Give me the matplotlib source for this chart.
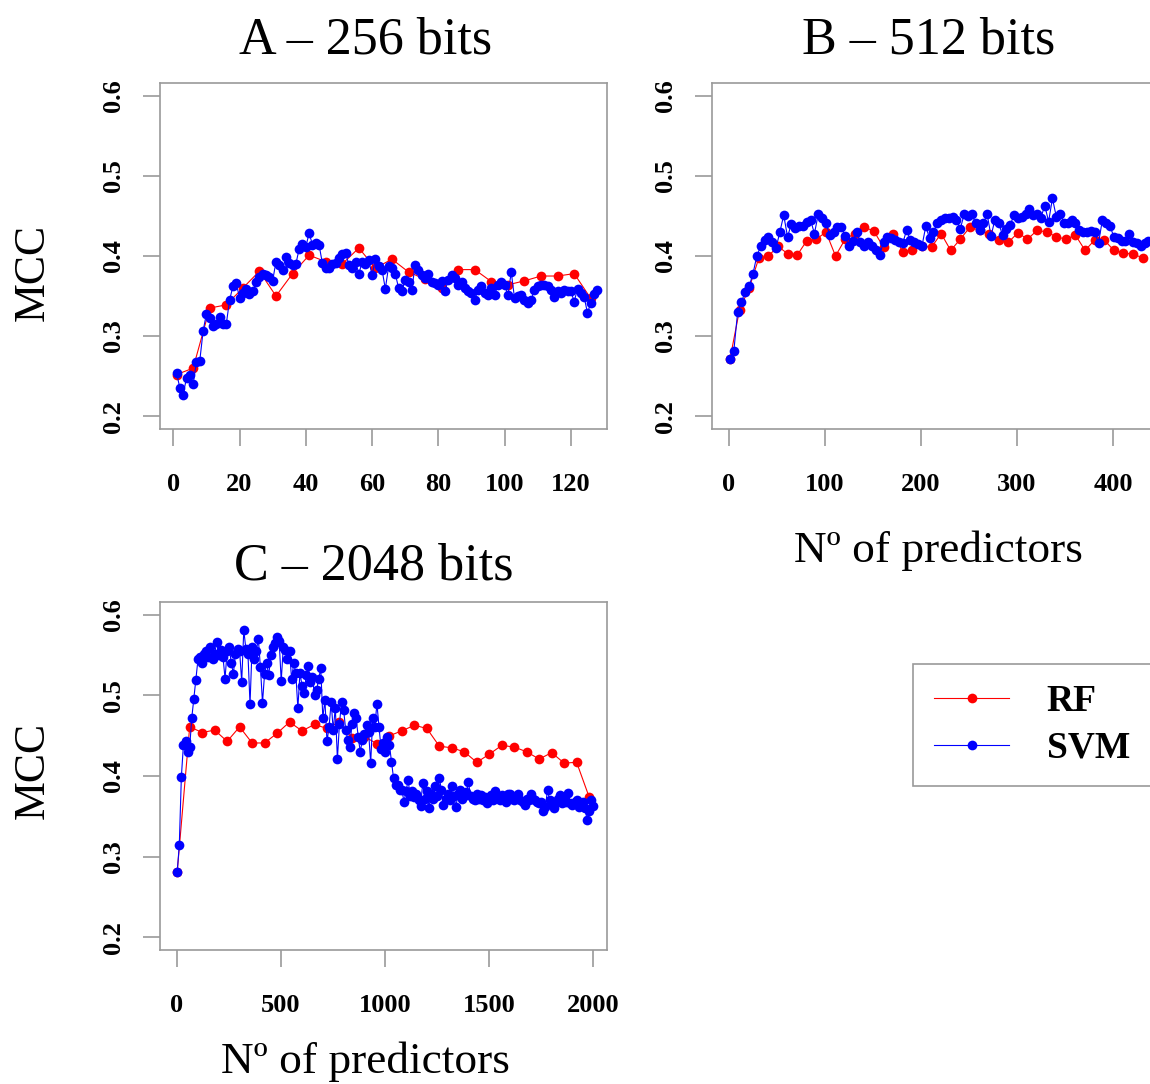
import numpy as np
import matplotlib
matplotlib.use("Agg")
import matplotlib.pyplot as plt
from matplotlib.lines import Line2D

# ---------------- data ----------------
# Panel A - 256 bits
a_svm_x = np.arange(1, 129)
a_svm_y = [0.254, 0.235, 0.227, 0.248, 0.251, 0.240, 0.268, 0.269, 0.306, 0.328,
           0.323, 0.313, 0.315, 0.324, 0.315, 0.315, 0.345, 0.362, 0.366, 0.348,
           0.354, 0.359, 0.352, 0.356, 0.368, 0.374, 0.378, 0.376, 0.374, 0.369,
           0.393, 0.389, 0.383, 0.399, 0.391, 0.389, 0.390, 0.409, 0.415, 0.411,
           0.429, 0.414, 0.416, 0.414, 0.391, 0.385, 0.385, 0.390, 0.391, 0.397,
           0.402, 0.404, 0.389, 0.385, 0.393, 0.378, 0.392, 0.390, 0.395, 0.376,
           0.396, 0.387, 0.383, 0.359, 0.387, 0.385, 0.378, 0.360, 0.356, 0.370,
           0.368, 0.358, 0.389, 0.383, 0.376, 0.372, 0.378, 0.367, 0.366, 0.364,
           0.369, 0.356, 0.370, 0.376, 0.372, 0.364, 0.368, 0.360, 0.356, 0.354,
           0.345, 0.358, 0.362, 0.354, 0.351, 0.360, 0.351, 0.364, 0.368, 0.364,
           0.351, 0.380, 0.347, 0.350, 0.351, 0.345, 0.341, 0.345, 0.358, 0.362,
           0.364, 0.364, 0.362, 0.358, 0.349, 0.356, 0.354, 0.358, 0.356, 0.356,
           0.343, 0.359, 0.354, 0.349, 0.329, 0.341, 0.352, 0.358]
a_rf_x = np.arange(1, 127, 5)
a_rf_y = [0.252, 0.260, 0.335, 0.339, 0.360, 0.381, 0.350, 0.378, 0.401, 0.393,
          0.390, 0.410, 0.385, 0.396, 0.380, 0.371, 0.360, 0.383, 0.383, 0.368,
          0.364, 0.369, 0.375, 0.375, 0.378, 0.347]

# Panel B - 512 bits
b_svm_x = np.arange(1, 438, 4)
b_svm_y = [0.271, 0.281, 0.330, 0.343, 0.355, 0.362, 0.378, 0.400, 0.412, 0.420,
           0.424, 0.418, 0.410, 0.430, 0.451, 0.424, 0.440, 0.435, 0.437, 0.437,
           0.443, 0.445, 0.428, 0.452, 0.447, 0.441, 0.426, 0.430, 0.436, 0.436,
           0.425, 0.412, 0.419, 0.430, 0.417, 0.412, 0.418, 0.412, 0.407, 0.401,
           0.418, 0.424, 0.422, 0.420, 0.418, 0.416, 0.432, 0.420, 0.418, 0.415,
           0.412, 0.437, 0.422, 0.430, 0.441, 0.445, 0.447, 0.447, 0.449, 0.445,
           0.434, 0.452, 0.450, 0.452, 0.441, 0.432, 0.441, 0.452, 0.425, 0.445,
           0.441, 0.426, 0.434, 0.439, 0.451, 0.447, 0.449, 0.452, 0.459, 0.451,
           0.453, 0.448, 0.463, 0.443, 0.472, 0.449, 0.453, 0.441, 0.441, 0.445,
           0.441, 0.432, 0.430, 0.430, 0.431, 0.430, 0.416, 0.445, 0.441, 0.437,
           0.424, 0.422, 0.419, 0.419, 0.428, 0.417, 0.416, 0.412, 0.416, 0.419]
b_rf_x = np.arange(1, 432, 10)
b_rf_y = [0.271, 0.333, 0.360, 0.397, 0.400, 0.412, 0.403, 0.401, 0.419, 0.421,
          0.430, 0.400, 0.421, 0.428, 0.436, 0.431, 0.411, 0.428, 0.405, 0.408,
          0.412, 0.411, 0.428, 0.407, 0.421, 0.436, 0.432, 0.428, 0.420, 0.417,
          0.429, 0.421, 0.432, 0.430, 0.424, 0.421, 0.426, 0.407, 0.420, 0.420,
          0.407, 0.404, 0.402, 0.398]

# Panel C - 2048 bits
c_svm_x = np.arange(1, 2002, 10)
c_svm_y = [0.281, 0.314, 0.399, 0.439, 0.443, 0.430, 0.436, 0.472, 0.496, 0.519,
           0.545, 0.548, 0.540, 0.552, 0.555, 0.548, 0.560, 0.545, 0.552, 0.566,
           0.550, 0.556, 0.548, 0.521, 0.555, 0.560, 0.540, 0.527, 0.552, 0.558,
           0.555, 0.517, 0.581, 0.558, 0.552, 0.489, 0.560, 0.545, 0.555, 0.570,
           0.535, 0.491, 0.527, 0.540, 0.525, 0.550, 0.560, 0.565, 0.573, 0.568,
           0.518, 0.560, 0.556, 0.545, 0.555, 0.520, 0.540, 0.528, 0.484, 0.528,
           0.512, 0.503, 0.525, 0.536, 0.517, 0.523, 0.500, 0.507, 0.520, 0.534,
           0.472, 0.494, 0.443, 0.461, 0.492, 0.457, 0.485, 0.421, 0.465, 0.492,
           0.482, 0.457, 0.445, 0.436, 0.465, 0.478, 0.472, 0.449, 0.430, 0.445,
           0.452, 0.463, 0.455, 0.416, 0.472, 0.461, 0.490, 0.461, 0.434, 0.441,
           0.430, 0.449, 0.439, 0.418, 0.397, 0.389, 0.389, 0.383, 0.383, 0.368,
           0.381, 0.395, 0.375, 0.381, 0.374, 0.378, 0.370, 0.363, 0.391, 0.372,
           0.381, 0.360, 0.378, 0.372, 0.387, 0.375, 0.397, 0.383, 0.364, 0.372,
           0.378, 0.370, 0.387, 0.375, 0.362, 0.378, 0.383, 0.372, 0.375, 0.380,
           0.392, 0.375, 0.372, 0.370, 0.378, 0.372, 0.376, 0.370, 0.374, 0.366,
           0.372, 0.376, 0.370, 0.381, 0.374, 0.370, 0.376, 0.372, 0.368, 0.378,
           0.378, 0.372, 0.370, 0.374, 0.378, 0.370, 0.368, 0.364, 0.372, 0.370,
           0.378, 0.372, 0.370, 0.368, 0.366, 0.368, 0.356, 0.362, 0.383, 0.370,
           0.366, 0.360, 0.368, 0.372, 0.376, 0.366, 0.370, 0.368, 0.379, 0.366,
           0.364, 0.368, 0.370, 0.362, 0.366, 0.368, 0.360, 0.346, 0.356, 0.370,
           0.363]
c_rf_x = np.arange(1, 1982, 60)
c_rf_y = [0.281, 0.461, 0.454, 0.457, 0.443, 0.461, 0.441, 0.441, 0.453, 0.467,
          0.456, 0.464, 0.459, 0.467, 0.447, 0.449, 0.440, 0.450, 0.456, 0.463,
          0.459, 0.437, 0.435, 0.430, 0.417, 0.427, 0.438, 0.436, 0.430, 0.421,
          0.429, 0.416, 0.417, 0.374]

titles = ["A \u2013 256 bits", "B \u2013 512 bits", "C \u2013 2048 bits"]
y_ticks = [0.2, 0.3, 0.4, 0.5, 0.6]
a_xticks = [0, 20, 40, 60, 80, 100, 120]
b_xticks = [0, 100, 200, 300, 400]
c_xticks = [0, 500, 1000, 1500, 2000]
series_names = ["RF", "SVM"]

# ---------------- style ----------------
W, H = 1150, 1084
SERIF = ["Liberation Serif", "DejaVu Serif"]
plt.rcParams["font.family"] = SERIF
RED, BLUE = "#ff0000", "#0000ff"
GREY = "#9a9a9a"
MS = 7.0
LW = 0.8

fig = plt.figure(figsize=(W / 100, H / 100), dpi=100)


def px_axes(l, t, r, b):
    return fig.add_axes([l / W, 1 - b / H, (r - l) / W, (b - t) / H])


def style(ax, xlim, xticks):
    ax.set_xlim(*xlim)
    ax.set_ylim(0.184, 0.616)
    ax.set_xticks(xticks)
    ax.set_yticks(y_ticks)
    ax.set_yticklabels([f"{v:.1f}" for v in y_ticks])
    for s in ax.spines.values():
        s.set_color(GREY)
        s.set_linewidth(1.2)
    ax.tick_params(axis="both", length=12.5, width=1.2, color=GREY,
                   labelsize=19, labelcolor="black")
    ax.tick_params(axis="x", pad=19)
    ax.tick_params(axis="y", pad=13, labelrotation=90)
    for lab in ax.get_xticklabels() + ax.get_yticklabels():
        lab.set_fontweight("bold")
    for lab in ax.get_yticklabels():
        lab.set_va("center")


def draw(ax, rx, ry, sx, sy):
    ax.plot(rx, ry, "-o", color=RED, lw=LW, ms=MS, mew=0, zorder=2)
    ax.plot(sx, sy, "-o", color=BLUE, lw=LW, ms=MS, mew=0, zorder=3)


axA = px_axes(160, 83, 607, 429)
draw(axA, a_rf_x, a_rf_y, a_svm_x, a_svm_y)
style(axA, (-4.0, 130.9), a_xticks)

axB = px_axes(712, 83, 1240, 429)
draw(axB, b_rf_x, b_rf_y, b_svm_x, b_svm_y)
style(axB, (-17.7, 532.4), b_xticks)
axB.spines["right"].set_visible(False)

axC = px_axes(160, 602, 607, 950)
draw(axC, c_rf_x, c_rf_y, c_svm_x, c_svm_y)
style(axC, (-81.7, 2067), c_xticks)

# titles and axis labels
def ftext(x, y, s, size, **kw):
    fig.text(x / W, 1 - y / H, s, fontsize=size, ha="center", va="center", **kw)

ftext(366, 40, titles[0], 37.5)
ftext(929, 40, titles[1], 37.5)
ftext(374, 567, titles[2], 37.5)
ftext(33, 272, "MCC", 31.5, rotation=90)
ftext(33, 770, "MCC", 31.5, rotation=90)
ftext(938, 551, "N\u00ba of predictors", 32.7)
ftext(365, 1062, "N\u00ba of predictors", 32.7)

# legend
handles = [Line2D([], [], color=RED, lw=LW, marker="o", ms=MS, mew=0),
           Line2D([], [], color=BLUE, lw=LW, marker="o", ms=MS, mew=0)]
leg = fig.legend(handles, series_names, loc="center",
                 bbox_to_anchor=(1032 / W, 1 - 725 / H),
                 prop={"family": SERIF, "weight": "bold", "size": 27},
                 frameon=True, fancybox=False, framealpha=1,
                 edgecolor=GREY, handlelength=2.0, handletextpad=1.0,
                 labelspacing=0.3, borderpad=0.55, borderaxespad=0)
leg.get_frame().set_linewidth(1.2)

fig.savefig("out.png", dpi=100)
